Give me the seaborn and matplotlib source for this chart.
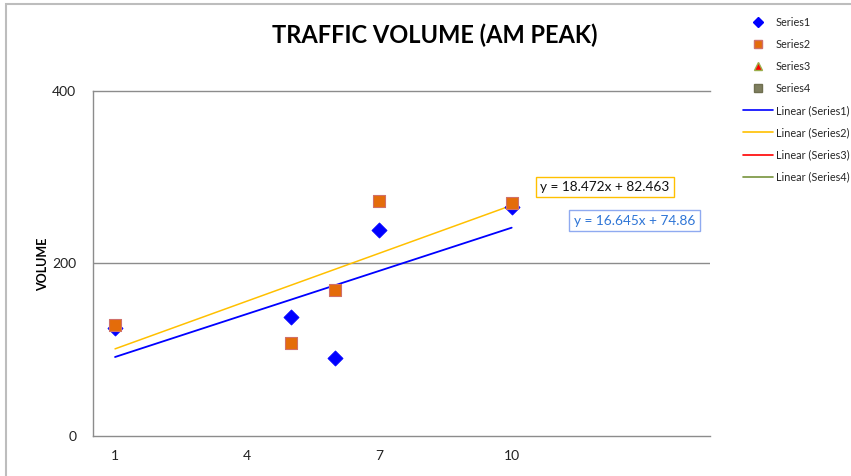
import matplotlib
matplotlib.use("Agg")
import matplotlib.pyplot as plt
from matplotlib.lines import Line2D
from matplotlib.patches import Rectangle
import numpy as np
import pandas as pd
import seaborn as sns

# Observed AM-peak volumes at each count location
locations = [1, 5, 6, 7, 10]
series1 = [124.6, 138.0, 90.0, 238.6, 265.8]
series2 = [129.1, 107.3, 169.0, 272.5, 270.4]

# Linear trend coefficients (slope, intercept)
trend1 = (16.645, 74.86)
trend2 = (18.472, 82.463)
trend_span = [1, 10]

x_ticks = [1, 4, 7, 10]
y_ticks = [0, 200, 400]

legend_labels = ["Series1", "Series2", "Series3", "Series4",
                 "Linear (Series1)", "Linear (Series2)",
                 "Linear (Series3)", "Linear (Series4)"]

sns.set_theme(style="white")
plt.rcParams["font.family"] = ["Lato", "DejaVu Sans"]

W, H = 851, 476
fig = plt.figure(figsize=(W / 100, H / 100), dpi=100)
ax = fig.add_axes([93 / W, 1 - 436 / H, (710 - 93) / W, (436 - 90.7) / H])

blue = "#0000FF"
orange = "#E46C0A"
gold = "#FFC000"
grid_gray = "#8C8C8C"

df = pd.DataFrame({"x": locations, "s1": series1, "s2": series2})

# trend lines drawn from the stated equations
tx = np.array(trend_span, dtype=float)
sns.lineplot(x=tx, y=trend2[0] * tx + trend2[1], ax=ax, color=gold, lw=1.1, zorder=2)
sns.lineplot(x=tx, y=trend1[0] * tx + trend1[1], ax=ax, color=blue, lw=1.3, zorder=2)

sns.scatterplot(data=df, x="x", y="s1", ax=ax, marker="D", s=60, color=blue,
                edgecolor=blue, linewidth=0.5, zorder=3)
sns.scatterplot(data=df, x="x", y="s2", ax=ax, marker="s", s=75, color=orange,
                edgecolor="#D0706A", linewidth=0.8, zorder=4)

ax.set_xlim(0.5, 14.5)
ax.set_ylim(0, 400)
ax.set_xticks(x_ticks)
ax.set_yticks(y_ticks)
ax.tick_params(axis="both", length=0, labelsize=10, colors="#222222")
ax.tick_params(axis="x", pad=10)
ax.tick_params(axis="y", pad=12)
ax.set_xlabel("")
ax.set_ylabel("")

for side in ["left", "bottom", "top"]:
    ax.spines[side].set_visible(True)
    ax.spines[side].set_color(grid_gray)
    ax.spines[side].set_linewidth(1.0)
ax.spines["right"].set_visible(False)
ax.axhline(200, color=grid_gray, lw=1.0, zorder=1)

# title and axis caption
fig.text(434.5 / W, 1 - 35 / H, "TRAFFIC VOLUME (AM PEAK)", ha="center", va="center",
         fontsize=17, fontweight="bold", color="black")
fig.text(43 / W, 1 - 264 / H, "VOLUME", rotation=90, ha="center", va="center",
         fontsize=9, fontweight="bold", color="black")

# equation labels
fig.text(605 / W, 1 - 187 / H, f"y = {trend2[0]}x + {trend2[1]}", ha="center", va="center",
         fontsize=9.8, color="#111111",
         bbox=dict(boxstyle="square,pad=0.33", fc="white", ec=gold, lw=1.0))
fig.text(634.5 / W, 1 - 220.7 / H, f"y = {trend1[0]}x + {trend1[1]}", ha="center", va="center",
         fontsize=9.8, color="#2E75D6",
         bbox=dict(boxstyle="square,pad=0.33", fc="white", ec="#8FAAF0", lw=1.0))

# legend
handles = [
    Line2D([], [], ls="none", marker="D", ms=5, color=blue),
    Line2D([], [], ls="none", marker="s", ms=6, mfc=orange, mec="#D0706A"),
    Line2D([], [], ls="none", marker="^", ms=6, mfc="#FF0000", mec="#9BAE4A"),
    Line2D([], [], ls="none", marker="s", ms=6, mfc="#7F7F5F", mec="#6F6F50"),
    Line2D([], [], color=blue, lw=1.2),
    Line2D([], [], color=gold, lw=1.2),
    Line2D([], [], color="#FF0000", lw=1.2),
    Line2D([], [], color="#77933C", lw=1.2),
]
fig.legend(handles, legend_labels, loc="upper left", bbox_to_anchor=(743 / W, 1 - 17 / H),
           frameon=False, fontsize=7.8, handlelength=2.75, handletextpad=0.28,
           labelspacing=1.02, borderpad=0, borderaxespad=0)

# chart area border
fig.patches.append(Rectangle((5.5 / W, -0.05), 1.0, 1 - 3.5 / H + 0.05,
                             transform=fig.transFigure, fill=False,
                             ec="#BDBDBD", lw=1.5))

fig.savefig("out.png", dpi=100)
